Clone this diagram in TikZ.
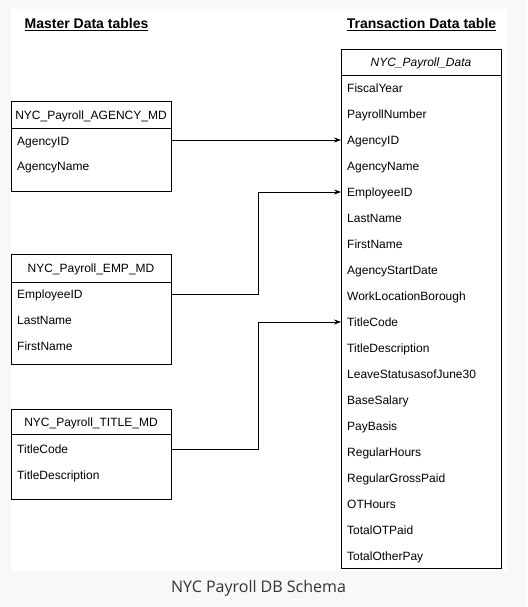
\documentclass[tikz,border=0pt]{standalone}
\usepackage{fontspec}
\setmainfont{Liberation Sans}
\newfontfamily\capfont{Open Sans}
\usetikzlibrary{arrows.meta}
\definecolor{pagebg}{HTML}{F8F8F8}
\definecolor{captxt}{HTML}{333333}
\tikzset{
  rowtxt/.style={anchor=west,inner sep=0pt,text height=8.6pt,text depth=0pt,font=\fontsize{12}{14}\selectfont},
  hdrtxt/.style={anchor=center,inner sep=0pt,text height=8.6pt,text depth=0pt,font=\fontsize{12}{14}\selectfont},
  tbl/.style={draw=black,line width=0.8pt},
  conn/.style={draw=black,line width=0.8pt,-{Stealth[length=7pt,width=5pt]}},
  headtitle/.style={inner sep=0pt,text height=10pt,text depth=0pt,font=\fontsize{14}{16}\selectfont\bfseries}
}
\begin{document}
\begin{tikzpicture}[x=1pt,y=-1pt]
\useasboundingbox (0,0) rectangle (527,607);
\fill[pagebg] (0,0) rectangle (527,607);
\fill[white] (11,9) rectangle (507,571);
% headings
\node[headtitle] (mh) at (86.5,24) {\underline{Master Data tables}};
\node[headtitle] (th) at (421.5,24) {\underline{Transaction Data table}};
% big table
\draw[tbl] (341,49) rectangle (501,568);
\draw[tbl] (341,75) -- (501,75);
\node[hdrtxt,font=\fontsize{12}{14}\selectfont\itshape] (bigh) at (421,62) {NYC\_Payroll\_Data};
\foreach \t [count=\i from 0] in {FiscalYear,PayrollNumber,AgencyID,AgencyName,EmployeeID,LastName,FirstName,AgencyStartDate,WorkLocationBorough,TitleCode,TitleDescription,LeaveStatusasofJune30,BaseSalary,PayBasis,RegularHours,RegularGrossPaid,OTHours,TotalOTPaid,TotalOtherPay}{
  \node[rowtxt] (r\i) at (347,88+26*\i) {\t};
}
\coordinate (inA) at (341,140);
\coordinate (inE) at (341,192);
\coordinate (inT) at (341,322);
% agency table
\draw[tbl] (11,101) rectangle (171,191);
\draw[tbl] (11,128) -- (171,128);
\node[hdrtxt] (ah) at (91,115) {NYC\_Payroll\_AGENCY\_MD};
\node[rowtxt] (a1) at (17,141) {AgencyID};
\node[rowtxt] (a2) at (17,166) {AgencyName};
\coordinate (outA) at (171,140);
% emp table
\draw[tbl] (11,254) rectangle (171,364);
\draw[tbl] (11,282) -- (171,282);
\node[hdrtxt] (eh) at (91,268) {NYC\_Payroll\_EMP\_MD};
\node[rowtxt] (e1) at (17,294) {EmployeeID};
\node[rowtxt] (e2) at (17,320) {LastName};
\node[rowtxt] (e3) at (17,346) {FirstName};
\coordinate (outE) at (171,294);
% title table
\draw[tbl] (11,409) rectangle (171,499);
\draw[tbl] (11,434) -- (171,434);
\node[hdrtxt] (tth) at (91,422) {NYC\_Payroll\_TITLE\_MD};
\node[rowtxt] (t1) at (17,449) {TitleCode};
\node[rowtxt] (t2) at (17,475) {TitleDescription};
\coordinate (outT) at (171,449);
% connectors
\draw[conn] (outA) -- (inA);
\draw[conn] (outE) -- (258,294) -- (258,192) -- (inE);
\draw[conn] (outT) -- (258,449) -- (258,322) -- (inT);
% caption
\node[inner sep=0pt,font=\capfont\fontsize{16}{19}\selectfont,text=captxt] (cap) at (258.5,588) {NYC Payroll DB Schema};
\end{tikzpicture}
\end{document}
